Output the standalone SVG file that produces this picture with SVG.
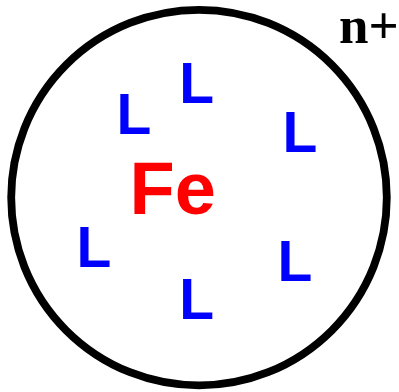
<svg xmlns="http://www.w3.org/2000/svg" width="399" height="392" viewBox="0 0 399 392">
<style>
.lig{font-family:"Liberation Sans",Arial,sans-serif;font-weight:bold;font-size:57px;fill:#0000ff}
.metal{font-family:"Liberation Sans",Arial,sans-serif;font-weight:bold;font-size:74px;fill:#ff0000}
.charge{font-family:"Liberation Serif","Times New Roman",serif;font-weight:bold;font-size:53px;fill:#000}
</style>
<rect width="399" height="392" fill="#fff"/>
<g id="complex">
<circle cx="199" cy="197.6" r="187.8" fill="none" stroke="#000" stroke-width="7.8"/>
</g>
<g id="charge"><text class="charge" x="339" y="42.7">n+</text></g>
<g id="metal"><text class="metal" x="129.6" y="214">Fe</text></g>
<g id="L1"><text class="lig" x="179.2" y="103">L</text></g>
<g id="L2"><text class="lig" x="116.6" y="134.3">L</text></g>
<g id="L3"><text class="lig" x="282.6" y="151.7">L</text></g>
<g id="L4"><text class="lig" x="76.6" y="267.3">L</text></g>
<g id="L5"><text class="lig" x="277.6" y="281">L</text></g>
<g id="L6"><text class="lig" x="179.2" y="319.3">L</text></g>
</svg>
